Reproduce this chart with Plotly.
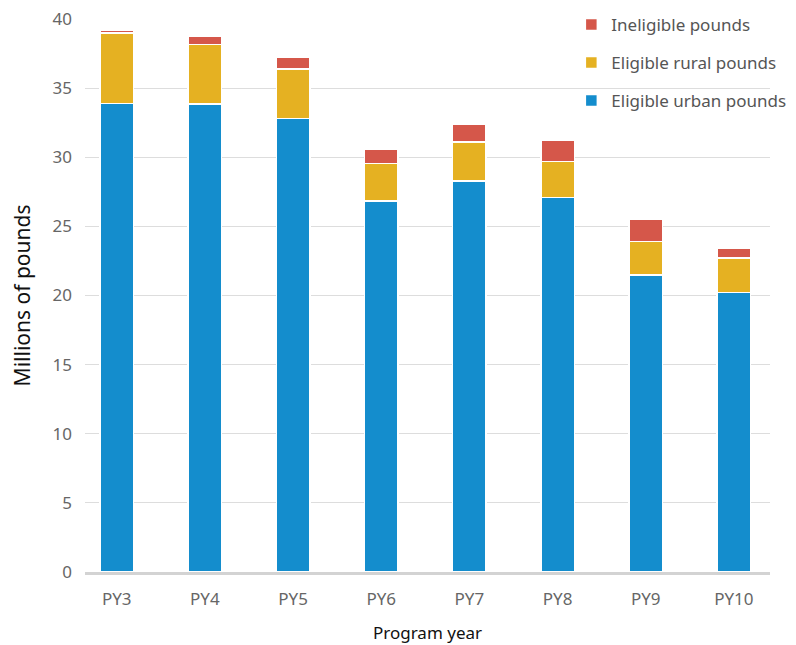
import plotly.graph_objs as go

# program years and pounds (millions)
years = ["PY3", "PY4", "PY5", "PY6", "PY7", "PY8", "PY9", "PY10"]
urban = [33.9, 33.85, 32.8, 26.85, 28.3, 27.1, 21.5, 20.2]
rural = [5.1, 4.3, 3.6, 2.7, 2.8, 2.6, 2.4, 2.5]
ineligible = [0.2, 0.6, 0.8, 1.0, 1.3, 1.55, 1.6, 0.75]

FONT = "Noto Sans"

fig = go.Figure()
fig.add_trace(go.Bar(x=years, y=urban, name="Eligible urban pounds", legendgroup="a", legendrank=3,
                     marker=dict(color="#148DCD", line=dict(color="white", width=1.5))))
fig.add_trace(go.Bar(x=years, y=rural, name="Eligible rural pounds", legendgroup="b", legendrank=2,
                     marker=dict(color="#E5B122", line=dict(color="white", width=1.5))))
fig.add_trace(go.Bar(x=years, y=ineligible, name="Ineligible pounds", legendgroup="c", legendrank=1,
                     marker=dict(color="#D5574A", line=dict(color="white", width=1.5))))

# page body has an 8px margin, so the figure is a bit smaller than the window
fig.update_layout(
    width=788, height=637,
    barmode="stack",
    bargap=0.62,
    plot_bgcolor="white",
    paper_bgcolor="white",
    font=dict(family=FONT, color="#666666"),
    margin=dict(l=77, r=26, t=11, b=73, autoexpand=False),
    showlegend=True,
    legend=dict(x=0.71, y=1.022, xanchor="left", yanchor="top", traceorder="grouped",
                tracegroupgap=13, font=dict(size=17, color="#555555"),
                itemwidth=30, bgcolor="rgba(0,0,0,0)"),
    xaxis=dict(range=[-0.36, 7.41], showgrid=False, showline=True, linecolor="#d3d3d3",
               linewidth=3, ticks="", ticklabelstandoff=10, ticklabeloverflow="allow",
               tickfont=dict(size=17, color="#666666"),
               title=dict(text="Program year", font=dict(size=17, color="#111111"), standoff=18)),
    yaxis=dict(range=[0, 40], dtick=5, showgrid=True, gridcolor="#dddddd", gridwidth=1,
               zeroline=False, ticks="", ticklabelstandoff=12, ticklabeloverflow="allow",
               tickfont=dict(size=17, color="#666666"),
               title=dict(text="Millions of pounds", font=dict(size=21, color="#111111"), standoff=20)),
)

fig.write_html("out.html")
